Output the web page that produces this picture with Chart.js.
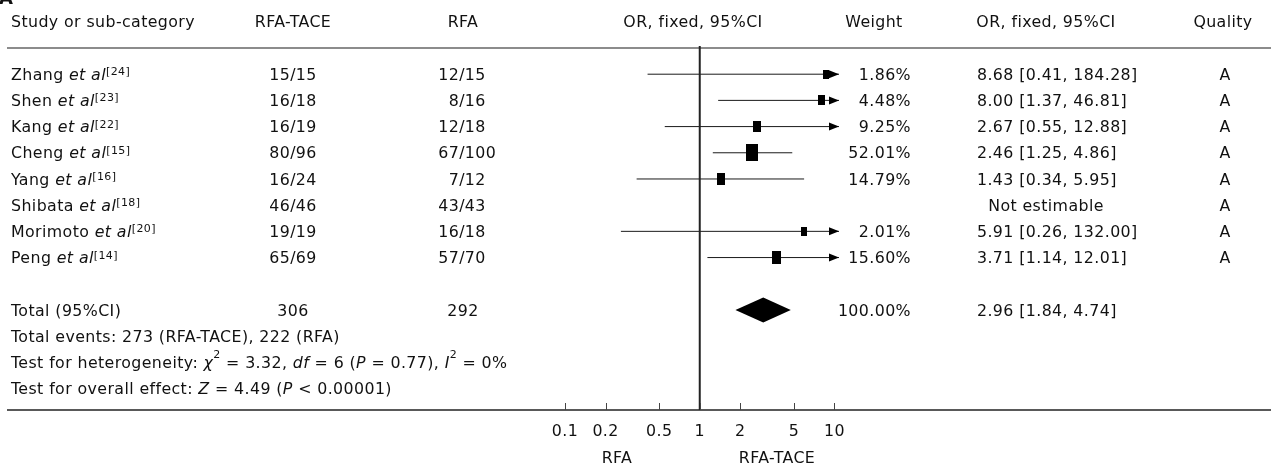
<!DOCTYPE html>
<html>
<head>
<meta charset="utf-8">
<title>Forest plot: RFA-TACE vs RFA</title>
<script src="https://cdn.jsdelivr.net/npm/chart.js@4.4.1/dist/chart.umd.min.js"></script>
<style>
  html, body { margin: 0; padding: 0; background: #fff; overflow: hidden; }
  canvas { display: block; }
</style>
</head>
<body>
<canvas id="forest" width="1271" height="470"></canvas>
<script>
// ---- study data ----
const studies     = ['Zhang', 'Shen', 'Kang', 'Cheng', 'Yang', 'Shibata', 'Morimoto', 'Peng'];
const refs        = [24, 23, 22, 15, 16, 18, 20, 14];
const taceEvents  = [15, 16, 16, 80, 16, 46, 19, 65];
const taceTotals  = [15, 18, 19, 96, 24, 46, 19, 69];
const rfaEvents   = [12, 8, 12, 67, 7, 43, 16, 57];
const rfaTotals   = [15, 16, 18, 100, 12, 43, 18, 70];
const weights     = [1.86, 4.48, 9.25, 52.01, 14.79, null, 2.01, 15.60];
const oddsRatios  = [8.68, 8.00, 2.67, 2.46, 1.43, null, 5.91, 3.71];
const ciLow       = [0.41, 1.37, 0.55, 1.25, 0.34, null, 0.26, 1.14];
const ciHigh      = [184.28, 46.81, 12.88, 4.86, 5.95, null, 132.00, 12.01];
const quality     = ['A', 'A', 'A', 'A', 'A', 'A', 'A', 'A'];

// ---- pooled result ----
const totalTace   = 306;
const totalRfa    = 292;
const totalWeight = 100.00;
const pooledOR    = 2.96;
const pooledLow   = 1.84;
const pooledHigh  = 4.74;
const eventsTace  = 273;
const eventsRfa   = 222;

// ---- axis ----
const axisTicks   = [0.1, 0.2, 0.5, 1, 2, 5, 10];
const axisMin     = 0.1;
const axisMax     = 10.8;

// ---- styling / layout ----
const FONT = '"DejaVu Sans", Verdana, sans-serif';
const SIZE = 15.8;
const SUP_SIZE = 11;
const SPACING = '0.4px';
const INK = '#111';
const ROW_TOTAL = 9;
const ROW_HEADER = -2;
const COL = {
  study: 11, tace: 293, rfa: 462, plotHead: 693, weight: 911,
  orHead: 1046, orVal: 977, quality: 1224, lineLeft: 7, lineRight: 1271
};

function fontOf(italic, size, bold) {
  return (italic ? 'italic ' : '') + (bold ? 'bold ' : '') + size + 'px ' + FONT;
}

function runsWidth(ctx, runs) {
  let w = 0;
  for (const r of runs) {
    ctx.font = fontOf(r.i, r.sup ? SUP_SIZE : SIZE);
    w += ctx.measureText(r.t).width;
  }
  return w;
}

// rich text: runs of {t, i (italic), sup}
function drawRuns(ctx, runs, x, yMid, align) {
  ctx.letterSpacing = SPACING;
  const w = runsWidth(ctx, runs);
  let cx = align === 'center' ? x - w / 2 : align === 'right' ? x - w : x;
  ctx.textAlign = 'left';
  ctx.textBaseline = 'alphabetic';
  for (const r of runs) {
    ctx.font = fontOf(r.i, r.sup ? SUP_SIZE : SIZE);
    const base = r.sup ? yMid + (r.supDy || 0) : yMid + 5.6;
    ctx.fillText(r.t, cx, base);
    cx += ctx.measureText(r.t).width;
  }
}

function txt(ctx, s, x, yMid, align) {
  drawRuns(ctx, [{ t: s }], x, yMid, align);
}

// events/total pair aligned on the slash
function drawFraction(ctx, num, den, slashX, yMid) {
  ctx.letterSpacing = SPACING;
  ctx.font = fontOf(false, SIZE);
  const sw = ctx.measureText('/').width;
  txt(ctx, String(num), slashX - sw / 2, yMid, 'right');
  txt(ctx, '/', slashX, yMid, 'center');
  txt(ctx, String(den), slashX + sw / 2, yMid, 'left');
}

// study marker: a filled box whose size grows with the study weight
function boxFor(weight) {
  const h = Math.round(7.3 + 1.33 * Math.sqrt(weight));
  const w = Math.round(h * 0.7);
  const c = document.createElement('canvas');
  c.width = w; c.height = h;
  const g = c.getContext('2d');
  g.fillStyle = '#000';
  g.fillRect(0, 0, w, h);
  return c;
}

// ---- datasets ----
const datasets = [];
studies.forEach((s, i) => {
  if (oddsRatios[i] == null) return;
  datasets.push({
    type: 'scatter',
    data: [{ x: ciLow[i], y: i }, { x: ciHigh[i], y: i }],
    showLine: true,
    borderColor: '#1a1a1a',
    borderWidth: 1,
    pointRadius: 0,
    order: 2
  });
});
datasets.push({
  type: 'scatter',
  data: studies.map((s, i) => oddsRatios[i] == null ? null : { x: oddsRatios[i], y: i, w: weights[i] })
               .filter(Boolean),
  pointStyle: (c) => c.raw ? boxFor(c.raw.w) : 'rect',
  pointRadius: 5,
  order: 1
});

const tablePlugin = {
  id: 'forestTable',
  afterDraw(chart) {
    const ctx = chart.ctx;
    const xs = chart.scales.x, ys = chart.scales.y;
    const Y = (r) => ys.getPixelForValue(r);
    const X = (v) => xs.getPixelForValue(v);
    ctx.save();
    ctx.fillStyle = INK;
    ctx.strokeStyle = INK;

    // panel letter, cropped at the top edge
    ctx.font = fontOf(false, 18, true);
    ctx.textAlign = 'left';
    ctx.textBaseline = 'alphabetic';
    ctx.fillText('A', -1, 4);

    // header
    const hy = Y(ROW_HEADER);
    txt(ctx, 'Study or sub-category', COL.study, hy, 'left');
    txt(ctx, 'RFA-TACE', COL.tace, hy, 'center');
    txt(ctx, 'RFA', COL.rfa + 1, hy, 'center');
    txt(ctx, 'OR, fixed, 95%CI', COL.plotHead, hy, 'center');
    txt(ctx, 'Weight', COL.weight - 37, hy, 'center');
    txt(ctx, 'OR, fixed, 95%CI', COL.orHead, hy, 'center');
    txt(ctx, 'Quality', COL.quality - 1, hy, 'center');

    // header and footer rules
    ctx.lineWidth = 1.5;
    ctx.strokeStyle = '#666';
    ctx.beginPath();
    ctx.moveTo(COL.lineLeft, Y(-1)); ctx.lineTo(COL.lineRight, Y(-1));
    ctx.stroke();
    const axisY = Y(ys.max);
    ctx.strokeStyle = '#222';
    ctx.beginPath();
    ctx.moveTo(COL.lineLeft, axisY); ctx.lineTo(COL.lineRight, axisY);
    ctx.stroke();

    // line of no effect
    ctx.lineWidth = 2;
    ctx.beginPath();
    ctx.moveTo(X(1), Y(-1) - 2); ctx.lineTo(X(1), axisY);
    ctx.stroke();

    // study rows
    studies.forEach((s, i) => {
      const y = Y(i);
      drawRuns(ctx, [
        { t: s + ' ' }, { t: 'et al', i: true }, { t: '[' + refs[i] + ']', sup: true, supDy: 1 }
      ], COL.study, y, 'left');
      drawFraction(ctx, taceEvents[i], taceTotals[i], COL.tace, y);
      drawFraction(ctx, rfaEvents[i], rfaTotals[i], COL.rfa, y);
      if (weights[i] != null) {
        txt(ctx, weights[i].toFixed(2) + '%', COL.weight, y, 'right');
        txt(ctx, oddsRatios[i].toFixed(2) + ' [' + ciLow[i].toFixed(2) + ', ' + ciHigh[i].toFixed(2) + ']',
            COL.orVal, y, 'left');
      } else {
        txt(ctx, 'Not estimable', COL.orHead, y, 'center');
      }
      txt(ctx, quality[i], COL.quality + 1, y, 'center');

      // arrowheads where the interval runs past the axis
      if (ciHigh[i] != null && ciHigh[i] > xs.max) {
        const tip = xs.right;
        ctx.fillStyle = '#000';
        ctx.beginPath();
        ctx.moveTo(tip, y); ctx.lineTo(tip - 10, y - 4); ctx.lineTo(tip - 10, y + 4);
        ctx.closePath(); ctx.fill();
        ctx.fillStyle = INK;
      }
      if (ciLow[i] != null && ciLow[i] < xs.min) {
        const tip = xs.left;
        ctx.fillStyle = '#000';
        ctx.beginPath();
        ctx.moveTo(tip, y); ctx.lineTo(tip + 10, y - 4); ctx.lineTo(tip + 10, y + 4);
        ctx.closePath(); ctx.fill();
        ctx.fillStyle = INK;
      }
    });

    // pooled row
    const ty = Y(ROW_TOTAL);
    txt(ctx, 'Total (95%CI)', COL.study, ty, 'left');
    txt(ctx, String(totalTace), COL.tace, ty, 'center');
    txt(ctx, String(totalRfa), COL.rfa + 1, ty, 'center');
    txt(ctx, totalWeight.toFixed(2) + '%', COL.weight, ty, 'right');
    txt(ctx, pooledOR.toFixed(2) + ' [' + pooledLow.toFixed(2) + ', ' + pooledHigh.toFixed(2) + ']',
        COL.orVal, ty, 'left');

    // pooled diamond
    ctx.fillStyle = '#000';
    ctx.beginPath();
    ctx.moveTo(X(pooledLow), ty);
    ctx.lineTo(X(pooledOR), ty - 12.5);
    ctx.lineTo(X(pooledHigh), ty);
    ctx.lineTo(X(pooledOR), ty + 12.5);
    ctx.closePath();
    ctx.fill();
    ctx.fillStyle = INK;

    // summary statistics
    txt(ctx, 'Total events: ' + eventsTace + ' (RFA-TACE), ' + eventsRfa + ' (RFA)', COL.study, Y(10), 'left');
    drawRuns(ctx, [
      { t: 'Test for heterogeneity: ' }, { t: 'χ', i: true }, { t: '2', sup: true, supDy: -4 },
      { t: ' = 3.32, ' }, { t: 'df', i: true }, { t: ' = 6 (' }, { t: 'P', i: true },
      { t: ' = 0.77), ' }, { t: 'I', i: true }, { t: '2', sup: true, supDy: -4 }, { t: ' = 0%' }
    ], COL.study, Y(11), 'left');
    drawRuns(ctx, [
      { t: 'Test for overall effect: ' }, { t: 'Z', i: true }, { t: ' = 4.49 (' },
      { t: 'P', i: true }, { t: ' < 0.00001)' }
    ], COL.study, Y(12), 'left');

    // x axis ticks and labels
    ctx.strokeStyle = '#444';
    ctx.lineWidth = 1;
    axisTicks.forEach(v => {
      const x = Math.round(X(v)) + 0.5;
      ctx.beginPath();
      ctx.moveTo(x, axisY); ctx.lineTo(x, axisY - 7);
      ctx.stroke();
      txt(ctx, String(v), X(v), axisY + 20, 'center');
    });
    txt(ctx, 'RFA', 617, axisY + 47, 'center');
    txt(ctx, 'RFA-TACE', 777, axisY + 47, 'center');

    ctx.restore();
  }
};

new Chart(document.getElementById('forest'), {
  type: 'scatter',
  data: { datasets },
  options: {
    responsive: false,
    animation: false,
    events: [],
    layout: { padding: { left: 565, right: 432, top: 48, bottom: 60 } },
    plugins: { legend: { display: false }, tooltip: { enabled: false } },
    scales: {
      x: { type: 'logarithmic', min: axisMin, max: axisMax, bounds: 'data', display: false },
      y: { type: 'linear', min: -1, max: 12.82, reverse: true, display: false }
    }
  },
  plugins: [tablePlugin]
});
</script>
</body>
</html>
